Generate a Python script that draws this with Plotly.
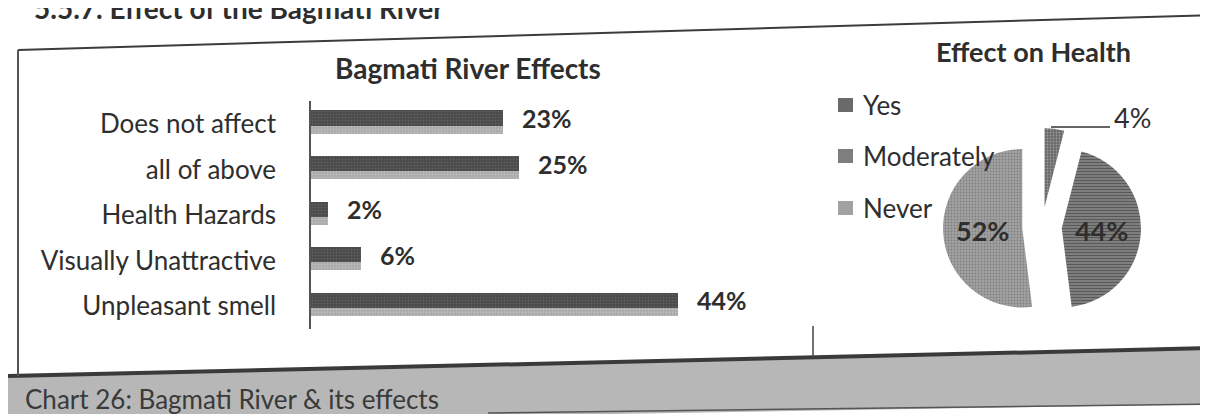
import plotly.graph_objects as go

W, H = 1208, 414

# ---------------- data ----------------
bar_categories = ["Does not affect", "all of above", "Health Hazards",
                  "Visually Unattractive", "Unpleasant smell"]
bar_values = [23, 25, 2, 6, 44]

pie_labels = ["Yes", "Moderately", "Never"]
pie_values = [4, 44, 52]

heading = "5.5.7. Effect of the Bagmati River"
bar_title = "Bagmati River Effects"
pie_title = "Effect on Health"
caption = "Chart 26: Bagmati River & its effects"

# ---------------- style ----------------
FONT = "Lato"
TXT = "#2e2e2e"
BAR_DARK = "#4a4a4a"
BAR_SHADOW = "#a9a9a9"
PIE_COLORS = ["#6a6a6a", "#7e7e7e", "#a2a2a2"]
PIE_FG = ["#9a9a9a", "#555555", "#808080"]
PIE_SHAPES = [".", "-", "."]


def X(px):
    return px / W


def Y(py):
    return 1 - py / H


fig = go.Figure()

# shadow bars (lighter, slightly lower)
fig.add_trace(go.Bar(
    x=bar_values, y=bar_categories, orientation="h",
    width=0.43, offset=-0.21,
    marker=dict(color=BAR_SHADOW, line=dict(width=0),
                pattern=dict(shape=".", fgcolor="#d6d6d6", bgcolor=BAR_SHADOW,
                             size=3, solidity=0.3)),
    hoverinfo="skip", showlegend=False, xaxis="x", yaxis="y"))
# main dark bars
fig.add_trace(go.Bar(
    x=bar_values, y=bar_categories, orientation="h",
    width=0.33, offset=-0.033,
    marker=dict(color=BAR_DARK, line=dict(width=0),
                pattern=dict(shape=".", fgcolor="#7a7a7a", bgcolor=BAR_DARK,
                             size=3, solidity=0.25)),
    showlegend=False, xaxis="x", yaxis="y"))

# pie
pie_text = ["" if i == 0 else "%{percent}" for i in range(len(pie_values))]
fig.add_trace(go.Pie(
    labels=pie_labels, values=pie_values, sort=False,
    direction="clockwise", rotation=0,
    pull=[0.25] * len(pie_values),
    marker=dict(colors=PIE_COLORS, line=dict(width=0),
                pattern=dict(shape=PIE_SHAPES, fgcolor=PIE_FG, bgcolor=PIE_COLORS,
                             size=3, solidity=0.3)),
    texttemplate=pie_text, textposition="inside",
    insidetextorientation="horizontal",
    insidetextfont=dict(family=FONT, size=27, color=TXT, weight="bold"),
    showlegend=False,
    domain=dict(x=[X(935), X(1133)], y=[Y(318), Y(120)])))

annotations = []
# bar value labels
for c, v in zip(bar_categories, bar_values):
    annotations.append(dict(
        x=v, y=c, xref="x", yref="y", text=f"{v}%", showarrow=False,
        xanchor="left", yanchor="middle", xshift=17, yshift=6,
        font=dict(family=FONT, size=25, color=TXT, weight="bold")))

# titles
annotations += [
    dict(x=X(24), y=Y(13), xref="paper", yref="paper", text=heading,
         showarrow=False, xanchor="left", yanchor="bottom", yshift=-6,
         font=dict(family=FONT, size=28, color=TXT, weight="bold")),
    dict(x=X(460), y=Y(60), xref="paper", yref="paper", text=bar_title,
         showarrow=False, xanchor="center", yanchor="middle",
         font=dict(family=FONT, size=28, color=TXT, weight="bold")),
    dict(x=X(1025), y=Y(43), xref="paper", yref="paper", text=pie_title,
         showarrow=False, xanchor="center", yanchor="middle",
         font=dict(family=FONT, size=27, color=TXT, weight="bold")),
    dict(x=X(15), y=Y(391), xref="paper", yref="paper", text=caption,
         showarrow=False, xanchor="left", yanchor="middle",
         font=dict(family=FONT, size=26, color="#3a3a3a")),
]

# "4%" outside label for the small slice
total = sum(pie_values)
annotations.append(dict(
    x=X(1104), y=Y(109), xref="paper", yref="paper",
    text=f"{round(100 * pie_values[0] / total)}%", showarrow=False,
    xanchor="left", yanchor="middle",
    font=dict(family=FONT, size=27, color=TXT)))

# manual legend (wide spacing like the original)
leg_y = [97, 148, 200]
shapes = []
for lab, col, ly in zip(pie_labels, PIE_COLORS, leg_y):
    annotations.append(dict(
        x=X(853), y=Y(ly), xref="paper", yref="paper", text=lab,
        showarrow=False, xanchor="left", yanchor="middle",
        font=dict(family=FONT, size=26, color=TXT)))
    shapes.append(dict(type="rect", xref="paper", yref="paper",
                       x0=X(830), x1=X(845), y0=Y(ly + 7), y1=Y(ly - 7),
                       fillcolor=col, line=dict(width=0)))

# frame / decoration
shapes += [
    # caption band
    dict(type="path", xref="paper", yref="paper",
         path=f"M {X(0)},{Y(368)} L {X(1208)},{Y(340)} L {X(1208)},{Y(396)} "
              f"L {X(0)},{Y(416)} Z",
         fillcolor="#b7b7b7", line=dict(width=0)),
    dict(type="line", xref="paper", yref="paper",
         x0=X(0), y0=Y(368), x1=X(1208), y1=Y(340),
         line=dict(color="#3a3a3a", width=4)),
    dict(type="line", xref="paper", yref="paper",
         x0=X(480), y0=Y(405), x1=X(1208), y1=Y(396),
         line=dict(color="#555555", width=1.5)),
    # top rule (page slightly skewed)
    dict(type="line", xref="paper", yref="paper",
         x0=X(10), y0=Y(42), x1=X(1208), y1=Y(7),
         line=dict(color="#3c3c3c", width=2)),
    # left frame
    dict(type="line", xref="paper", yref="paper",
         x0=X(10), y0=Y(42), x1=X(10), y1=Y(368),
         line=dict(color="#555555", width=2)),
    # divider between the two charts
    dict(type="line", xref="paper", yref="paper",
         x0=X(805), y0=Y(318), x1=X(805), y1=Y(350),
         line=dict(color="#444444", width=1.5)),
    # leader line for 4%
    dict(type="line", xref="paper", yref="paper",
         x0=X(1043), y0=Y(119), x1=X(1102), y1=Y(119),
         line=dict(color="#333333", width=1.5)),
]

fig.update_layout(
    width=W, height=H,
    margin=dict(l=0, r=0, t=0, b=0),
    paper_bgcolor="white", plot_bgcolor="rgba(0,0,0,0)",
    barmode="overlay", bargap=0,
    xaxis=dict(domain=[X(303), X(803)], range=[0, 60], visible=False,
               fixedrange=True),
    yaxis=dict(domain=[Y(321), Y(93)], type="category",
               categoryorder="array", categoryarray=bar_categories[::-1],
               showline=True, linecolor="#555555", linewidth=1.5,
               ticks="", ticklabelstandoff=28, showgrid=False,
               tickfont=dict(family=FONT, size=26, color=TXT),
               fixedrange=True),
    annotations=annotations, shapes=shapes,
    font=dict(family=FONT, color=TXT),
)

fig.write_html("out.html")
